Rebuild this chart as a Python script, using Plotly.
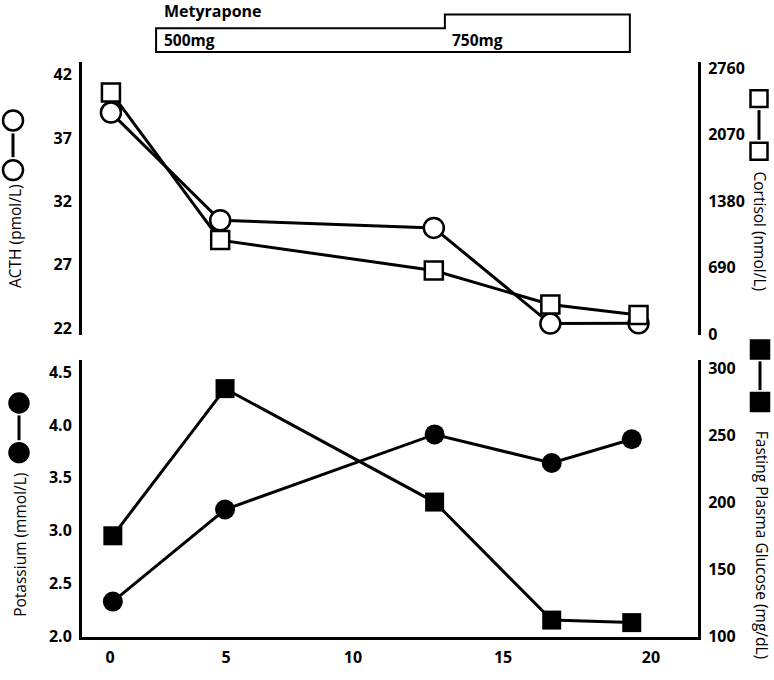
import plotly.graph_objects as go

# ---------------- data ----------------
top_days = [0.03, 4.07, 11.97, 16.28, 19.54]
acth = [39.0, 30.5, 29.9, 22.35, 22.37]            # pmol/L
cortisol = [2509, 977, 662, 309, 200]               # nmol/L

bottom_days = [0.10, 4.25, 12.0, 16.33, 19.29]
potassium = [2.33, 3.20, 3.91, 3.64, 3.865]         # mmol/L
glucose = [175.2, 284.7, 200.3, 112.5, 110.6]       # mg/dL

x_tick_pos = [0, 4.29, 8.98, 14.53, 20]
x_tick_text = ["0", "5", "10", "15", "20"]
acth_ticks = [22, 27, 32, 37, 42]
cortisol_ticks = [0, 690, 1380, 2070, 2760]
potassium_ticks = [2.0, 2.5, 3.0, 3.5, 4.0, 4.5]
glucose_ticks = [100, 150, 200, 250, 300]

dose_days = [1.70, 12.38, 19.22]     # start, dose change, end
dose_labels = ["500mg", "750mg"]

# ---------------- layout helpers ----------------
W, H = 774, 680
ML, MR, MT, MB = 82, 76, 62, 38
PW, PH = W - ML - MR, H - MT - MB
FONT = "Open Sans"


def px(xp):
    return (xp - ML) / PW


def py(yp):
    return (H - MB - yp) / PH


fig = go.Figure()

line = dict(color="black", width=3)
fig.add_trace(go.Scatter(x=top_days, y=acth, mode="lines+markers", xaxis="x", yaxis="y",
                         line=line, cliponaxis=False,
                         marker=dict(symbol="circle", size=20, color="white",
                                     line=dict(color="black", width=2.5))))
fig.add_trace(go.Scatter(x=top_days, y=cortisol, mode="lines+markers", xaxis="x", yaxis="y2",
                         line=line, cliponaxis=False,
                         marker=dict(symbol="square", size=18, color="white",
                                     line=dict(color="black", width=2.5))))
fig.add_trace(go.Scatter(x=bottom_days, y=potassium, mode="lines+markers", xaxis="x", yaxis="y3",
                         line=line, cliponaxis=False,
                         marker=dict(symbol="circle", size=20, color="black")))
fig.add_trace(go.Scatter(x=bottom_days, y=glucose, mode="lines+markers", xaxis="x", yaxis="y4",
                         line=line, cliponaxis=False,
                         marker=dict(symbol="square", size=19, color="black")))

tickfont = dict(family=FONT, size=16, color="black", weight="bold")
yax = dict(showline=True, linewidth=3, linecolor="black", showgrid=False, zeroline=False,
           ticks="", tickfont=tickfont, ticklabelstandoff=4)

top_dom = [py(337), 1.0]
bot_dom = [0.0, py(363)]

fig.update_layout(
    width=W, height=H,
    margin=dict(l=ML, r=MR, t=MT, b=MB),
    paper_bgcolor="white", plot_bgcolor="white",
    showlegend=False,
    font=dict(family=FONT, color="black"),
    xaxis=dict(domain=[0, 1], anchor="y3", range=[-1.04, 21.74], showline=True, linewidth=3,
               linecolor="black", showgrid=False, zeroline=False, ticks="",
               tickvals=x_tick_pos, ticktext=x_tick_text, tickfont=tickfont,
               ticklabelstandoff=4),
    yaxis=dict(yax, domain=top_dom, anchor="x", range=[21.48, 42.99], tickvals=acth_ticks),
    yaxis2=dict(yax, domain=top_dom, anchor="x", overlaying="y", side="right",
                range=[-3, 2824], tickvals=cortisol_ticks),
    yaxis3=dict(yax, domain=bot_dom, anchor="x", range=[1.995, 4.61],
                tickvals=potassium_ticks, tickformat=".1f"),
    yaxis4=dict(yax, domain=bot_dom, anchor="x", overlaying="y3", side="right",
                range=[99.9, 305.7], tickvals=glucose_ticks),
)

# ---------------- metyrapone dosing box ----------------
yb, ylow, yhigh = py(52), py(28), py(14)
s, c, e = dose_days
fig.add_shape(type="path", xref="x", yref="paper",
              path=f"M {s},{yb} L {s},{ylow} L {c},{ylow} L {c},{yhigh} L {e},{yhigh} L {e},{yb} Z",
              line=dict(color="black", width=2), fillcolor="rgba(0,0,0,0)")
fig.add_annotation(text="<b>Metyrapone</b>", xref="x", yref="paper", x=s + 0.2, y=py(11),
                   xanchor="left", yanchor="middle", showarrow=False,
                   font=dict(family=FONT, size=16, color="black"))
for d, lab in zip([s, c], dose_labels):
    fig.add_annotation(text=f"<b>{lab}</b>", xref="x", yref="paper", x=d + 0.2, y=py(40),
                       xanchor="left", yanchor="middle", showarrow=False,
                       font=dict(family=FONT, size=15.5, color="black"))

# ---------------- axis titles with symbol keys ----------------
titles = [
    ("ACTH (pmol/L)", -90, 15.5, 238),
    ("Cortisol (nmol/L)", 90, 760, 233),
    ("Potassium (mmol/L)", -90, 20, 549),
    ("Fasting Plasma Glucose (mg/dL)", 90, 762, 549),
]
for txt, ang, xx, yy in titles:
    fig.add_annotation(text=txt, textangle=ang, xref="paper", yref="paper",
                       x=px(xx), y=py(yy), xanchor="center", yanchor="middle",
                       showarrow=False, font=dict(family=FONT, size=15.5, color="black"))


def key(kind, cx, cy1, cy2, size, filled):
    fill = "black" if filled else "white"
    for cy in (cy1, cy2):
        fig.add_shape(type=kind, xref="paper", yref="paper",
                      x0=px(cx - size / 2), x1=px(cx + size / 2),
                      y0=py(cy + size / 2), y1=py(cy - size / 2),
                      line=dict(color="black", width=2.5), fillcolor=fill)
    fig.add_shape(type="line", xref="paper", yref="paper",
                  x0=px(cx), x1=px(cx), y0=py(cy1 + size / 2 + 3), y1=py(cy2 - size / 2 - 3),
                  line=dict(color="black", width=3))


key("circle", 13, 121, 171, 20, False)
key("rect", 759, 99, 152, 17, False)
key("circle", 19, 406, 456, 19, True)
key("rect", 760, 352, 405, 18, True)

fig.write_html("out.html", config={"displayModeBar": False},
               post_script="document.body.style.margin='0';document.body.style.overflow='hidden';")
